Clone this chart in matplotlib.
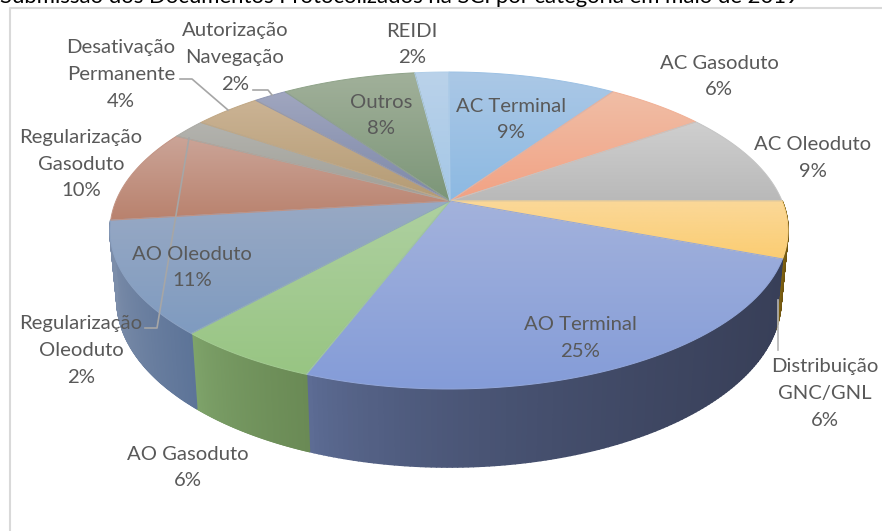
import matplotlib
matplotlib.use('Agg')
import matplotlib.pyplot as plt
import numpy as np
from matplotlib.collections import PolyCollection
from matplotlib.colors import to_rgb
from matplotlib.patches import Polygon

plt.rcParams['font.family'] = ['Lato', 'DejaVu Sans']

title = 'Submissão dos Documentos Protocolizados na SCI por categoria em maio de 2019'

# slices, clockwise from the top
categories = ['AC Terminal', 'AC Gasoduto', 'AC Oleoduto', 'Distribuição\nGNC/GNL', 'AO Terminal',
              'AO Gasoduto', 'AO Oleoduto', 'Regularização\nGasoduto', 'Regularização\nOleoduto',
              'Desativação\nPermanente', 'Autorização\nNavegação', 'Outros', 'REIDI']
percent_labels = [9, 6, 9, 6, 25, 6, 11, 10, 2, 4, 2, 8, 2]
# sizes as measured on the picture, the labels above are rounded
shares = [9.6, 5.7, 9.7, 5.75, 25.0, 5.85, 11.45, 9.55, 2.0, 3.9, 1.9, 7.65, 1.95]

# top face colours: upper and lower end of the gradient
face_top = ['#abc8e6', '#f0bea6', '#cfcfcf', '#fbd898', '#a3b2dc', '#aed0a0', '#98a9c4',
            '#cba497', '#b3b3ae', '#cbb394', '#a0a6bf', '#a1b09a', '#bad2ea']
face_bottom = ['#8cb9e2', '#f2a284', '#b9b9b9', '#fbcd72', '#849cd8', '#98c583', '#7f9bc0',
               '#b9826e', '#a09f97', '#b49b74', '#7d88a8', '#7c9678', '#a4c7e6']
# side colours of the slices that face the viewer: index in the lists above, left end, right end
side_slices = [3, 4, 5, 6]
side_left = ['#8a6a10', '#5f6f98', '#80a56c', '#7d8eaa']
side_right = ['#6e5410', '#383f58', '#6a8a55', '#5d7498']

# pie geometry in pixels, the apex is not the centre of the ellipse because of the perspective
top_ellipse = (449, 230.5, 339, 158.5)
bottom_ellipse = (449, 300, 332, 167)
apex = (450, 201)
a = (top_ellipse[1] - apex[1]) / top_ellipse[3]


def rim(phi, ellipse):
    cx, cy, rx, ry = ellipse
    u, v = np.sin(phi), np.cos(phi)
    den = 1 + a * v
    return cx + rx * u * np.sqrt(1 - a**2) / den, cy - ry * (v + a) / den


def gradient_face(ax, pts, c1, c2, z):
    poly = Polygon(pts, closed=True, facecolor='none', edgecolor='none', zorder=z)
    ax.add_patch(poly)
    c1 = np.array(to_rgb(c1))
    c2 = np.array(to_rgb(c2))
    t = np.linspace(0, 1, 64)[:, None]
    grad = (c1 * (1 - t) + c2 * t)[:, None, :]
    x0, x1 = pts[:, 0].min(), pts[:, 0].max()
    y0, y1 = pts[:, 1].min(), pts[:, 1].max()
    im = ax.imshow(grad, extent=(x0, x1, y1, y0), aspect='auto', interpolation='bilinear', zorder=z)
    im.set_clip_path(poly)
    # soft edge, clip paths are not antialiased
    ax.add_patch(Polygon(pts, closed=True, facecolor='none', zorder=z + 0.1, lw=0.7,
                         edgecolor=(c1 + c2) / 2))


fig = plt.figure(figsize=(8.82, 5.31), dpi=100)
ax = fig.add_axes([0, 0, 1, 1])

edges = np.radians(np.concatenate([[0], np.cumsum(shares)]) * 3.6)

# sides as thin quads so the colour can run along the rim
for k, i in enumerate(side_slices):
    phi = np.linspace(edges[i], edges[i + 1], 120)
    x_top, y_top = rim(phi, top_ellipse)
    x_bot, y_bot = rim(phi, bottom_ellipse)
    quads = []
    cols = []
    left, right = np.array(to_rgb(side_left[k])), np.array(to_rgb(side_right[k]))
    xmin, xmax = x_top.min(), x_top.max()
    for j in range(len(phi) - 1):
        quads.append([(x_top[j], y_top[j]), (x_top[j + 1], y_top[j + 1]),
                      (x_bot[j + 1], y_bot[j + 1]), (x_bot[j], y_bot[j])])
        t = ((x_top[j] - xmin) / (xmax - xmin)) ** 0.6
        cols.append(left * (1 - t) + right * t)
    # later quads sit on the earlier ones, the thick edge hides the seams
    ax.add_collection(PolyCollection(quads, facecolors=cols, edgecolors=cols, linewidths=1.2, zorder=2))

for i in range(len(shares)):
    phi = np.linspace(edges[i], edges[i + 1], 60)
    x_top, y_top = rim(phi, top_ellipse)
    face = np.column_stack([np.r_[apex[0], x_top], np.r_[apex[1], y_top]])
    gradient_face(ax, face, face_top[i], face_bottom[i], 3)

# leader lines
leader = '#a6a6a6'
ax.plot([180, 192, 228], [79, 79, 110], color=leader, lw=1.2, zorder=4)
ax.plot([253, 268, 272], [90, 90, 95], color=leader, lw=1.2, zorder=4)
ax.plot([145, 157, 189], [328, 328, 138], color=leader, lw=1.2, zorder=4)
ax.plot([778, 778], [300, 350], color='#b5b5b5', lw=1.2, zorder=4)

# label centres
label_x = [511, 719, 813, 825, 580, 188, 192, 81, 81, 121, 235, 381, 412]
label_y = [119.5, 76.5, 158, 393.5, 338, 467.5, 267.5, 164, 350.5, 74.5, 57.5, 115.5, 44.5]
for name, pct, lx, ly in zip(categories, percent_labels, label_x, label_y):
    ax.text(lx, ly, f'{name}\n{pct}%', ha='center', va='center', fontsize=14.6, color='#595959',
            linespacing=1.68, zorder=5)

# chart frame and the cut title line
ax.plot([9.5, 9.5, 882], [531, 7.5, 7.5], color='#d9d9d9', lw=1.5, zorder=1)
ax.text(0, 3, title, ha='left', va='baseline', fontsize=15.9, color='black', zorder=5)

ax.set_xlim(0, 882)
ax.set_ylim(531, 0)
ax.axis('off')
fig.savefig('out.png', dpi=100)
